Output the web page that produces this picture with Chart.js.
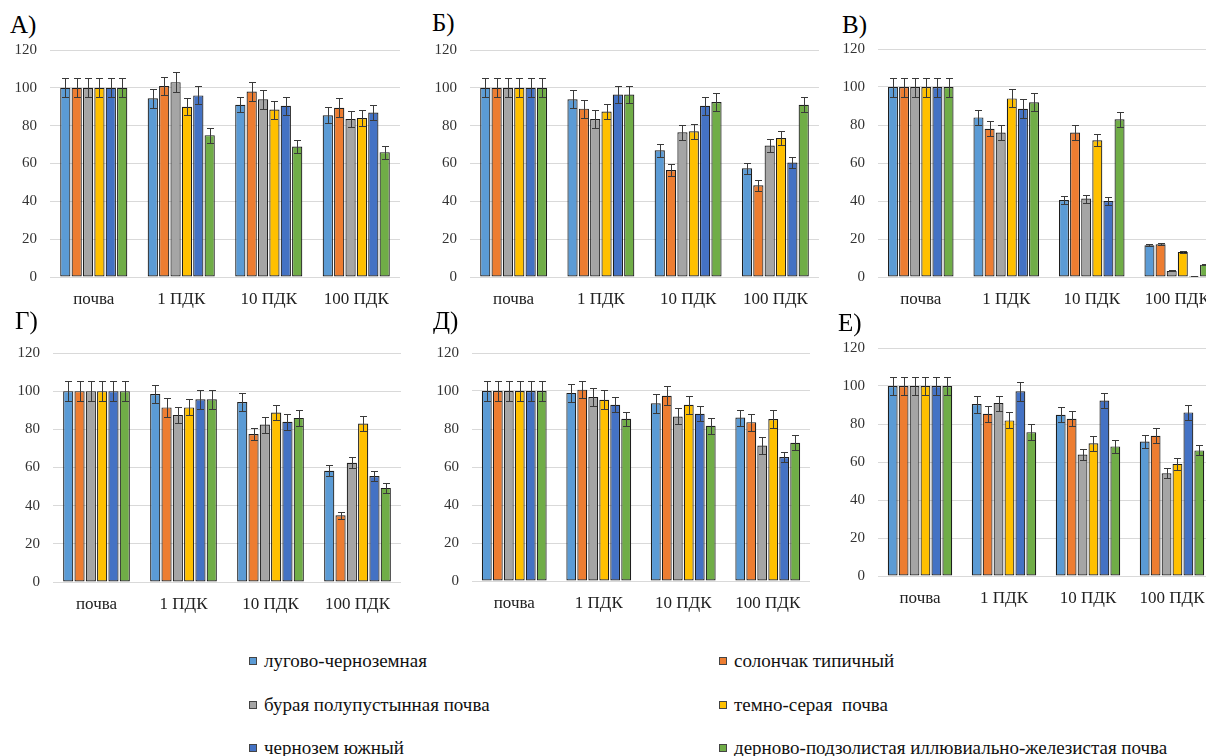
<!DOCTYPE html>
<html>
<head>
<meta charset="utf-8">
<script src="https://cdn.jsdelivr.net/npm/chart.js"></script>
<style>
  body { margin: 0; background: #fff; width: 1206px; height: 756px; overflow: hidden; position: relative;
         font-family: "Liberation Serif", "Times New Roman", serif; }
  canvas { position: absolute; }
  .tag { position: absolute; font-size: 25px; line-height: 1; color: #000; }
  .leg { position: absolute; height: 20px; display: flex; align-items: center; font-size: 19px; color: #111; white-space: pre; }
  .leg i { display: inline-block; width: 6px; height: 6px; border: 1px solid #444; margin-right: 7px; }
</style>
</head>
<body>
<script>
const categories = ['почва', '1 ПДК', '10 ПДК', '100 ПДК'];
const soils = ['лугово-черноземная', 'солончак типичный', 'бурая полупустынная почва',
               'темно-серая  почва', 'чернозем южный', 'дерново-подзолистая иллювиально-железистая почва'];
const colors = ['#5B9BD5', '#ED7D31', '#A5A5A5', '#FFC000', '#4472C4', '#70AD47'];
const yTicks = [0, 20, 40, 60, 80, 100, 120];
const panelLabels = ['А)', 'Б)', 'В)', 'Г)', 'Д)', 'Е)'];

// one row per soil: [почва, 1 ПДК, 10 ПДК, 100 ПДК]
const valuesA = [[100, 94.5, 91, 85.5], [100, 101, 98, 89.5], [100, 103, 94, 83.5],
                 [100, 90, 88.5, 84], [100, 96, 90.5, 87], [100, 75, 69, 66]];
const errorsA = [[5, 5, 4, 4.2], [5, 4.6, 5.2, 5], [5, 5.4, 5, 4],
                 [5, 4.5, 4.8, 4.1], [5, 4.8, 4.6, 4.1], [5, 4, 3.6, 3.4]];

const valuesB = [[100, 94, 67, 57.5], [100, 89, 56.5, 48.5], [100, 83.5, 76.5, 69.5],
                 [100, 87.5, 77, 73.5], [100, 96.5, 90.5, 60.5], [100, 96.5, 92.5, 91]];
const errorsB = [[5, 4.7, 3.5, 3], [5, 4.8, 3.1, 2.8], [5, 4.7, 4, 3.3],
                 [5, 4, 4, 3.5], [5, 4.6, 4.6, 2.8], [5, 4.6, 4.7, 4]];

const valuesV = [[100, 84, 40.5, 16.7], [100, 78, 76, 17.2], [100, 76, 41.3, 3.2],
                 [100, 94, 72, 13.2], [100, 88.5, 40, 0.5], [100, 92, 83, 6.5]];
const errorsV = [[5, 4.1, 2.2, 0.5], [5, 4, 3.8, 0.5], [5, 3.8, 2.1, 0.3],
                 [5, 4.7, 3.3, 0.5], [5, 5, 2.3, 0.2], [5, 4.7, 3.9, 0.4]];

const valuesG = [[100, 98.5, 94.3, 58.3], [100, 91.5, 77.5, 35], [100, 87.5, 82.5, 62.5],
                 [100, 91.5, 88.8, 83], [100, 95.8, 84, 55.5], [100, 95.8, 86, 49.3]];
const errorsG = [[5.2, 4.9, 4.7, 2.8], [5.2, 4.8, 3.3, 1.9], [5.2, 4.1, 4.2, 2.8],
                 [5.2, 4.2, 4.1, 4], [5.2, 4.9, 4.2, 2.8], [5.2, 4.9, 4, 2.6]];

const valuesD = [[100, 99, 93.5, 86], [100, 100.7, 97.5, 83.6], [100, 96.8, 86.6, 71.3],
                 [100, 95.4, 92.8, 85.2], [100, 92.8, 88, 65.2], [100, 85.4, 81.7, 72.8]];
const errorsD = [[5.2, 4.9, 4.9, 4.2], [5.2, 4.5, 4.9, 4.4], [5.2, 4.7, 4.2, 4.4],
                 [5.2, 4.9, 4.7, 4.9], [5.2, 4, 3.9, 2.6], [5.2, 3.8, 4.2, 4]];

const valuesE = [[100, 90.5, 84.9, 70.8], [100, 85.4, 82.7, 73.8], [100, 91, 63.9, 54.1],
                 [100, 81.9, 69.9, 59], [100, 97.2, 92.4, 86.1], [100, 75.7, 68.2, 66.1]];
const errorsE = [[4.8, 4.5, 4, 3.5], [4.8, 4.2, 3.9, 4], [4.8, 4, 2.9, 2.6],
                 [4.8, 4.2, 3.9, 3], [4.8, 4.9, 3.9, 4], [4.8, 4.1, 3.5, 2.6]];

const FONT = '"Liberation Serif", "Times New Roman", serif';

// error bars drawn from dataset.errors through the y scale
const errorBars = {
  id: 'errorBars',
  afterDatasetsDraw(chart) {
    const ctx = chart.ctx, y = chart.scales.y;
    ctx.save();
    ctx.strokeStyle = '#3a3a3a';
    ctx.lineWidth = 1;
    chart.data.datasets.forEach((ds, i) => {
      chart.getDatasetMeta(i).data.forEach((bar, j) => {
        const v = ds.data[j], e = ds.errors[j];
        const top = Math.round(y.getPixelForValue(v + e)) + 0.5;
        const bot = Math.round(y.getPixelForValue(v - e)) + 0.5;
        const x = Math.round(bar.x) + 0.5;
        ctx.beginPath();
        ctx.moveTo(x, top); ctx.lineTo(x, bot);
        ctx.moveTo(x - 3.5, top); ctx.lineTo(x + 3.5, top);
        ctx.moveTo(x - 3.5, bot); ctx.lineTo(x + 3.5, bot);
        ctx.stroke();
      });
    });
    ctx.restore();
  }
};

const panels = [
  { values: valuesA, errors: errorsA, left: 50,  right: 400,  top: 50,  bottom: 277, tx: 10,  ty: 12 },
  { values: valuesB, errors: errorsB, left: 470, right: 819,  top: 50,  bottom: 277, tx: 432, ty: 10 },
  { values: valuesV, errors: errorsV, left: 878, right: 1220, top: 49,  bottom: 277, tx: 842, ty: 12 },
  { values: valuesG, errors: errorsG, left: 53,  right: 401,  top: 353, bottom: 582, tx: 15,  ty: 308 },
  { values: valuesD, errors: errorsD, left: 472, right: 810,  top: 353, bottom: 581, tx: 433, ty: 308 },
  { values: valuesE, errors: errorsE, left: 878, right: 1214, top: 348, bottom: 576, tx: 838, ty: 310 }
];

panels.forEach((p, k) => {
  const tag = document.createElement('div');
  tag.className = 'tag';
  tag.textContent = panelLabels[k];
  tag.style.left = p.tx + 'px';
  tag.style.top = p.ty + 'px';
  document.body.appendChild(tag);

  const c = document.createElement('canvas');
  const cl = p.left - 50, ct = p.top - 22;
  const w = p.right - cl, h = p.bottom + 40 - ct;
  c.width = w; c.height = h;
  c.style.left = cl + 'px'; c.style.top = ct + 'px';
  c.style.width = w + 'px'; c.style.height = h + 'px';
  document.body.appendChild(c);

  new Chart(c, {
    type: 'bar',
    data: {
      labels: categories,
      datasets: soils.map((s, i) => ({
        label: s,
        data: p.values[i],
        errors: p.errors[i],
        backgroundColor: colors[i],
        borderColor: '#1e1e1e',
        borderWidth: 1.2,
        borderSkipped: false,
        categoryPercentage: 0.78,
        barPercentage: 0.9
      }))
    },
    options: {
      responsive: false,
      animation: false,
      layout: { padding: { top: 15, right: 0, bottom: 0, left: 0 } },
      plugins: { legend: { display: false }, tooltip: { enabled: false } },
      scales: {
        x: {
          grid: { display: false },
          border: { display: false },
          ticks: { font: { family: FONT, size: 17 }, color: '#222', padding: 4, maxRotation: 0, autoSkip: false },
          afterFit: s => { s.height = 40; }
        },
        y: {
          min: 0, max: 120,
          afterBuildTicks: s => { s.ticks = yTicks.map(v => ({ value: v })); },
          grid: { color: '#d9d9d9', drawTicks: false },
          border: { display: false },
          ticks: { font: { family: FONT, size: 15 }, color: '#333', padding: 13 },
          afterFit: s => { s.width = 50; }
        }
      }
    },
    plugins: [errorBars]
  });
});

// shared legend, two columns
const legendPos = [[249, 651], [719, 651], [249, 695], [719, 695], [249, 738], [719, 738]];
soils.forEach((s, i) => {
  const d = document.createElement('div');
  d.className = 'leg';
  d.style.left = legendPos[i][0] + 'px';
  d.style.top = legendPos[i][1] + 'px';
  const sw = document.createElement('i');
  sw.style.background = colors[i];
  d.appendChild(sw);
  d.appendChild(document.createTextNode(s));
  document.body.appendChild(d);
});
</script>
</body>
</html>
